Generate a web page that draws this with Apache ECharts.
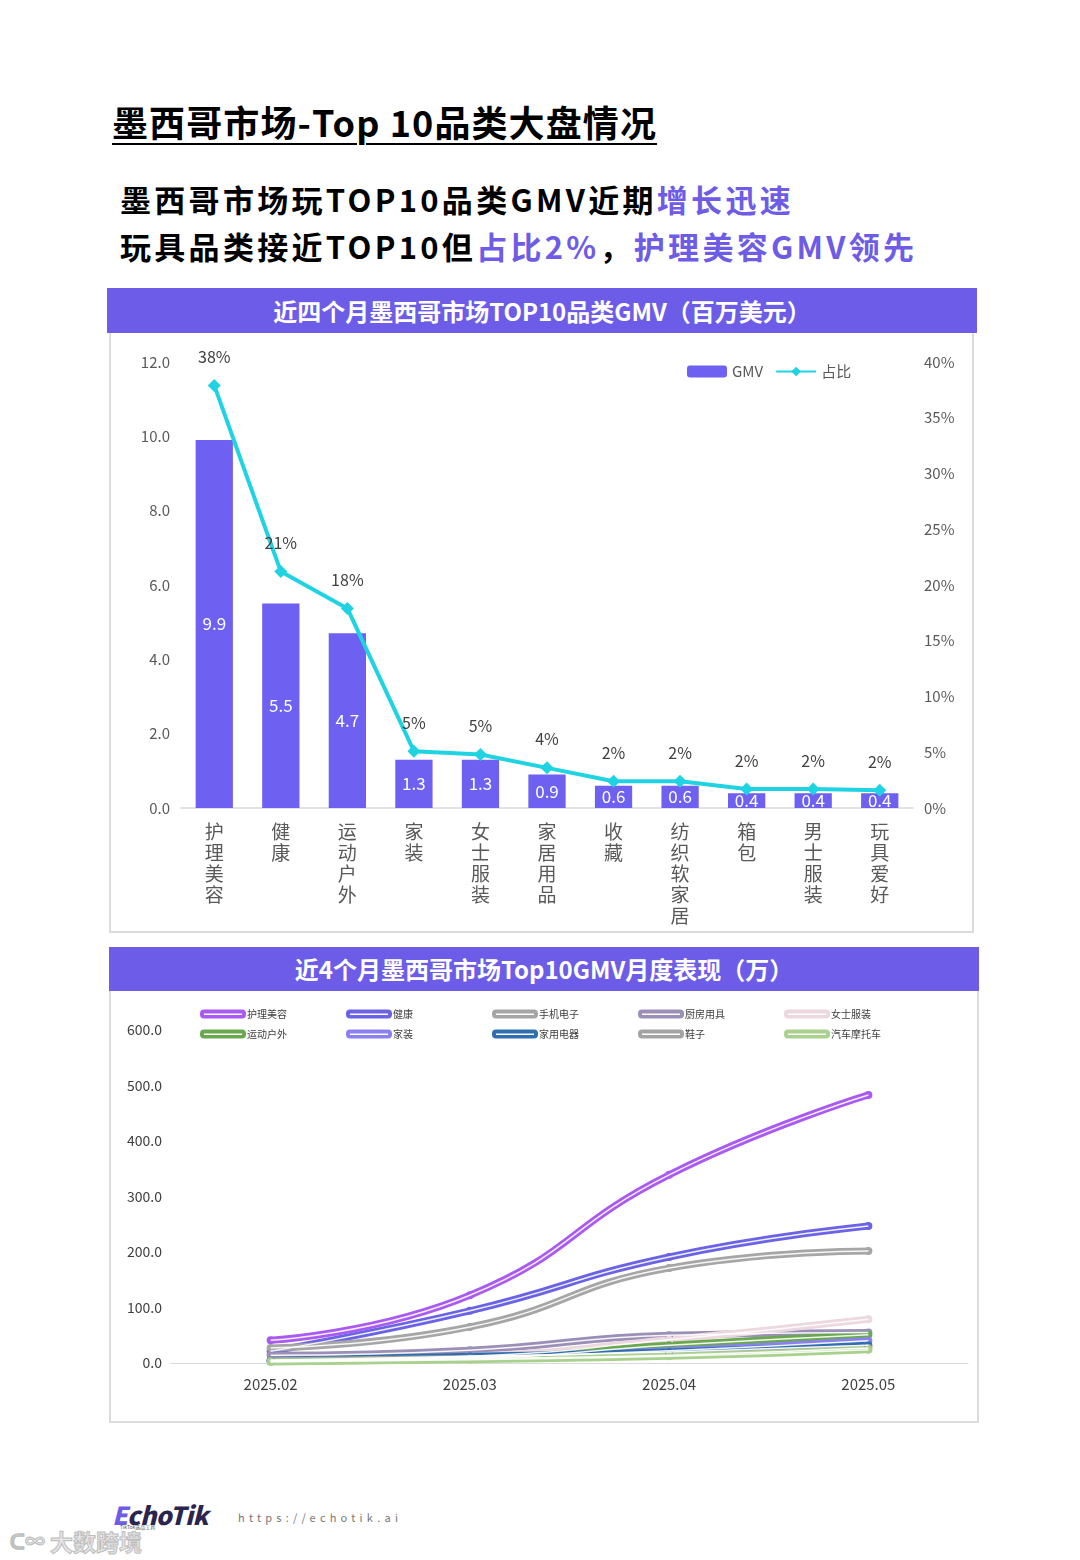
<!DOCTYPE html>
<html>
<head>
<meta charset="utf-8">
<script src="https://cdn.jsdelivr.net/npm/echarts@6/dist/echarts.min.js"></script>
<style>
  html, body { margin:0; padding:0; background:#fff; }
  body { width:1080px; height:1560px; position:relative; overflow:hidden; font-family:"Noto Sans CJK SC","Noto Sans",sans-serif; }
  .abs { position:absolute; }
  #title { left:112px; top:95px; font-size:36px; font-weight:700; color:#000; text-decoration:underline; text-decoration-thickness:2px; text-underline-offset:6px; white-space:nowrap; letter-spacing:1.1px; }
  .sub { left:120px; font-size:31px; font-weight:700; color:#000; white-space:nowrap; letter-spacing:3.3px; }
  .hl { color:#6e5ce6; }
  .hdr { background:#6c5ce8; color:#fff; font-weight:700; font-size:24px; text-align:center; line-height:45px; height:45px; }
  .panel { border:2px solid #dcdcdc; border-top:none; background:#fff; box-sizing:border-box; }
  #chart { left:0; top:0; width:1080px; height:1560px; }
</style>
</head>
<body>
<div id="title" class="abs">墨西哥市场-Top 10品类大盘情况</div>
<div class="abs sub" style="top:176px;">墨西哥市场玩TOP10品类GMV近期<span class="hl">增长迅速</span></div>
<div class="abs sub" style="top:223px;">玩具品类接近TOP10但<span class="hl">占比2%</span>，<span class="hl">护理美容GMV领先</span></div>

<div class="abs hdr" style="left:107px; top:288px; width:870px;">近四个月墨西哥市场TOP10品类GMV（百万美元）</div>
<div class="abs panel" style="left:109px; top:333px; width:865px; height:600px;"></div>

<div class="abs hdr" style="left:109px; top:947px; width:870px; height:44px; line-height:44px;">近4个月墨西哥市场Top10GMV月度表现（万）</div>
<div class="abs panel" style="left:109px; top:991px; width:870px; height:432px;"></div>

<div class="abs" style="left:112px; top:1496px; font-size:25px; font-weight:800; font-style:italic; color:#2a2550; letter-spacing:-0.5px;"><span style="color:#6c5ce8;">E</span>choTik</div>
<div class="abs" style="left:120px; top:1523px; font-size:5px; color:#555;">TikTok选品工具</div>
<div class="abs" style="left:238px; top:1509px; font-size:11px; color:#777; letter-spacing:4.2px;">https://echotik.ai</div>
<div class="abs" style="left:50px; top:1524px; font-size:23px; font-weight:700; color:#e6e6e6; -webkit-text-stroke:1px #bdbdbd;">大数跨境</div>
<div class="abs" style="left:10px; top:1526px; font-size:20px; font-weight:700; color:#e6e6e6; -webkit-text-stroke:1px #bdbdbd;">ᑕ∞</div>

<div id="chart" class="abs"></div>

<script>
// ---- Top chart data ----
const categories = ['护理美容','健康','运动户外','家装','女士服装','家居用品','收藏','纺织软家居','箱包','男士服装','玩具爱好'];
const gmvValues = [9.9, 5.5, 4.7, 1.3, 1.3, 0.9, 0.6, 0.6, 0.4, 0.4, 0.4];
const shareValues = [0.379, 0.212, 0.179, 0.051, 0.048, 0.036, 0.024, 0.024, 0.017, 0.017, 0.016];
const leftTicks = [0, 2, 4, 6, 8, 10, 12];
const rightTicks = [0, 0.05, 0.10, 0.15, 0.20, 0.25, 0.30, 0.35, 0.40];

// ---- Bottom chart data ----
const months = ['2025.02','2025.03','2025.04','2025.05'];
const lineNames = ['护理美容','健康','手机电子','厨房用具','女士服装','运动户外','家装','家用电器','鞋子','汽车摩托车'];
const s_huli   = [41, 122, 339, 483];
const s_jiankang = [21, 94, 191, 247];
const s_shouji = [27, 65, 171, 202];
const s_chufang = [14, 23, 50, 55];
const s_nvshi  = [5, 12, 42, 79];
const s_yundong = [3, 8, 32, 51];
const s_jiazhuang = [3, 10, 22, 40];
const s_jiayong = [5, 12, 20, 32];
const s_xiezi  = [4, 8, 14, 27];
const s_qiche  = [2, 6, 12, 24];
const lineData = [s_huli, s_jiankang, s_shouji, s_chufang, s_nvshi, s_yundong, s_jiazhuang, s_jiayong, s_xiezi, s_qiche];
const lineColors = ['#a95af2','#6b63e6','#a6a6a6','#9b8fb8','#ecd8de','#6aa84f','#8b80f0','#2f6fb0','#a3a3a3','#a9d18e'];

const FONT = '"Noto Sans CJK SC","Noto Sans",sans-serif';
const chart = echarts.init(document.getElementById('chart'), null, {renderer:'canvas'});

const legends = [
  { data:['GMV','占比'], left:682, top:359, itemWidth:40, itemHeight:12, itemGap:12,
    textStyle:{ fontSize:15, color:'#595959', fontFamily:FONT } }
];
const colX = [200, 346, 492, 638, 784];
const rowY = [1009, 1029];
const hollowIcon = 'path://M4,0 H42 A4,4 0 0 1 46,4 V5 A4,4 0 0 1 42,9 H4 A4,4 0 0 1 0,5 V4 A4,4 0 0 1 4,0 Z M4,4 V5.5 H42 V4 Z';
lineNames.forEach((n, i) => {
  const col = i < 5 ? i : i - 5;
  const row = i < 5 ? 0 : 1;
  legends.push({
    data:[{ name:n, icon:hollowIcon }], left:colX[col], top:rowY[row],
    itemWidth:46, itemHeight:9, padding:0,
    textStyle:{ fontSize:10, color:'#404040', fontFamily:FONT, padding:[0,0,0,-4] }
  });
});

const series = [
  { name:'GMV', type:'bar', xAxisIndex:0, yAxisIndex:0, data:gmvValues, barWidth:'56%',
    itemStyle:{ color:'#6e60f0' },
    label:{ show:true, position:'inside', color:'#fff', fontSize:17, fontFamily:FONT,
      formatter: p => p.value.toFixed(1) } },
  { name:'占比', type:'line', xAxisIndex:0, yAxisIndex:1, data:shareValues,
    lineStyle:{ color:'#1fd3e2', width:4 }, itemStyle:{ color:'#1fd3e2' },
    symbol:'diamond', symbolSize:13, z:5,
    label:{ show:true, position:'top', distance:14, color:'#404040', fontSize:16, fontFamily:FONT,
      formatter: p => Math.round(p.value * 100) + '%' } }
];
lineNames.forEach((n, i) => {
  series.push({ name:n, type:'line', xAxisIndex:1, yAxisIndex:2, data:lineData[i], smooth:true,
    lineStyle:{ color:lineColors[i], width:7 }, itemStyle:{ color:lineColors[i] },
    symbol:'circle', symbolSize:8, showSymbol:true, z:3 });
});
lineNames.forEach((n, i) => {
  series.push({ name:n + '_hl', type:'line', xAxisIndex:1, yAxisIndex:2, data:lineData[i], smooth:true,
    lineStyle:{ color:'rgba(255,255,255,0.9)', width:1.5 }, symbol:'none', silent:true, z:4, legendHoverLink:false });
});

chart.setOption({
  animation:false,
  textStyle:{ fontFamily:FONT },
  legend: legends,
  grid:[
    { left:181, width:732, top:362, height:446 },
    { left:171, width:797, top:1030, height:333 }
  ],
  xAxis:[
    { type:'category', gridIndex:0, data:categories,
      axisLine:{ lineStyle:{ color:'#d9d9d9', width:1.5 } }, axisTick:{ show:false },
      axisLabel:{ color:'#595959', fontSize:19, lineHeight:21, margin:13, fontFamily:FONT,
        formatter: v => v.split('').join('\n'), verticalAlign:'top' } },
    { type:'category', gridIndex:1, data:months,
      axisLine:{ lineStyle:{ color:'#d9d9d9', width:1 } }, axisTick:{ show:false },
      axisLabel:{ color:'#404040', fontSize:15, margin:14, fontFamily:FONT } }
  ],
  yAxis:[
    { type:'value', gridIndex:0, min:leftTicks[0], max:leftTicks[leftTicks.length-1], interval:leftTicks[1]-leftTicks[0],
      splitLine:{ show:false }, axisLine:{ show:false }, axisTick:{ show:false },
      axisLabel:{ color:'#595959', fontSize:15, margin:11, formatter: v => v.toFixed(1) } },
    { type:'value', gridIndex:0, position:'right', min:rightTicks[0], max:rightTicks[rightTicks.length-1], interval:0.05,
      splitLine:{ show:false }, axisLine:{ show:false }, axisTick:{ show:false },
      axisLabel:{ color:'#595959', fontSize:15, margin:11, formatter: v => Math.round(v*100) + '%' } },
    { type:'value', gridIndex:1, min:0, max:600, interval:100,
      splitLine:{ show:false }, axisLine:{ show:false }, axisTick:{ show:false },
      axisLabel:{ color:'#404040', fontSize:14, margin:9, formatter: v => v.toFixed(1) } }
  ],
  series: series
});
</script>
</body>
</html>
